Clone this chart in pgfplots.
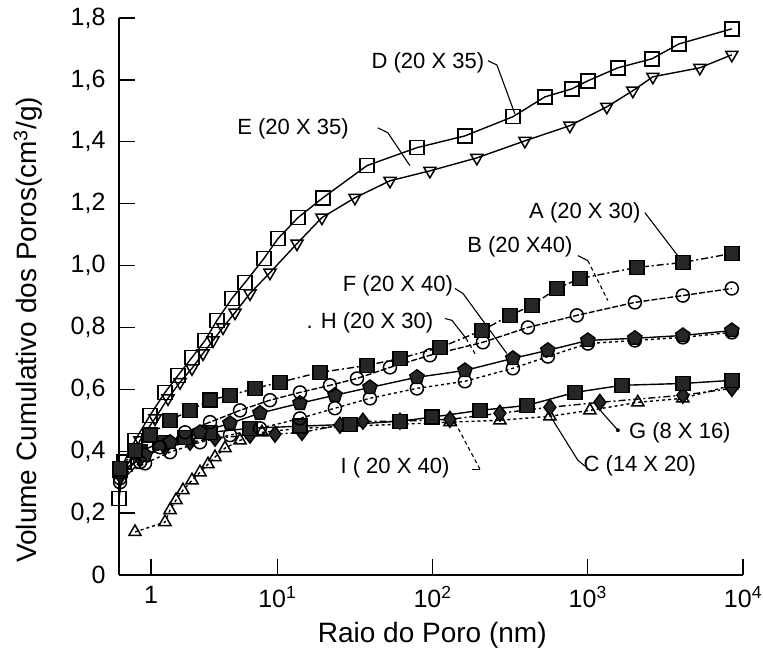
\documentclass[border=0pt]{standalone}
\usepackage{pgfplots}
\pgfplotsset{compat=1.18}
\usepackage{fontspec}
\setmainfont{Liberation Sans}
\begin{document}
\begin{tikzpicture}
\begin{axis}[name=ax,
  width=624pt, height=557pt, scale only axis,
  xmode=log, xmin=0.956, xmax=10000, ymin=0, ymax=1.8,
  axis lines=left, axis line style={-, line width=1.7pt},
  clip=false,
  xtick={1.537,10,100,1000,10000},
  xticklabels={1,10\textsuperscript{1},10\textsuperscript{2},10\textsuperscript{3},10\textsuperscript{4}},
  xminorticks=false,
  ytick={0,0.2,0.4,0.6,0.8,1.0,1.2,1.4,1.6,1.8},
  yticklabels={0,{0,2},{0,4},{0,6},{0,8},{1,0},{1,2},{1,4},{1,6},{1,8}},
  tick align=inside, major tick length=16pt,
  every tick/.style={black, line width=1.4pt},
  ticklabel style={font=\fontsize{25}{28}\selectfont},
  yticklabel style={xshift=-10pt},
  xticklabel style={yshift=-8pt},
  xlabel={Raio do Poro (nm)},
  ylabel={Volume Cumulativo dos Poros(cm\textsuperscript{3}/g)},
  label style={font=\fontsize{28}{32}\selectfont},
  xlabel style={at={(axis description cs:0.502,-0.108)}, anchor=center},
  ylabel style={at={(axis description cs:-0.146,0.44)}, anchor=center},
  every axis plot/.append style={line width=1.4pt, black},
]
% D (20 X 35) open squares
\addplot[mark=square, mark size=7pt, mark options={solid, fill=white, line width=1.5pt}] coordinates {
(0.957,0.248)(1.030,0.365)(1.212,0.435)(1.514,0.516)(1.891,0.590)(2.294,0.645)(2.823,0.703)(3.424,0.758)(4.090,0.823)(5.109,0.894)(6.194,0.945)(8.211,1.023)(10.10,1.087)(13.60,1.155)(19.69,1.219)(37.81,1.323)(79.37,1.381)(161.7,1.419)(329.4,1.481)(529.4,1.545)(790.2,1.571)(1001,1.597)(1562,1.639)(2586,1.668)(3860,1.716)(8471,1.765)};
% E (20 X 35) open down triangles
\addplot[mark=triangle, mark size=7pt, mark options={solid, rotate=180, fill=white, line width=1.5pt}] coordinates {
(1.0,0.323)(1.306,0.435)(1.631,0.506)(1.978,0.571)(2.363,0.623)(2.823,0.668)(3.323,0.716)(3.855,0.758)(4.470,0.800)(5.342,0.848)(6.673,0.910)(8.974,0.977)(13.39,1.071)(19.40,1.155)(31.64,1.219)(53.19,1.274)(96.23,1.306)(193.1,1.348)(393.6,1.403)(766.9,1.452)(1327,1.513)(1952,1.565)(2626,1.610)(5270,1.639)(8471,1.681)};
% G (8 X 16) open triangles
\addplot[dashed, mark=triangle, mark size=7pt, mark options={solid, fill=white, line width=1.5pt}] coordinates {
(1.212,0.139)(1.891,0.171)(2.038,0.210)(2.227,0.242)(2.470,0.274)(2.823,0.306)(3.179,0.332)(3.579,0.358)(3.971,0.381)(4.605,0.410)(5.753,0.435)(7.970,0.461)(14.00,0.474)(29.39,0.481)(61.68,0.487)(129.4,0.494)(271.6,0.500)(570.2,0.513)(1032,0.532)(2102,0.558)(4097,0.571)(8471,0.613)};
% I (20 X 40) filled diamonds
\addplot[dash pattern=on 7pt off 3pt on 2pt off 3pt, mark=diamond*, mark size=8pt, mark options={solid, fill=black!85}] coordinates {
(0.971,0.323)(1.306,0.377)(1.891,0.413)(2.741,0.429)(3.971,0.442)(6.673,0.452)(9.665,0.455)(14.42,0.461)(25.33,0.484)(35.63,0.497)(61.68,0.497)(129.4,0.503)(271.6,0.523)(570.2,0.542)(1196,0.558)(4097,0.581)(8471,0.603)};
% C (14 X 20) filled squares
\addplot[mark=square*, mark size=7pt, mark options={solid, fill=black!85}] coordinates {
(0.971,0.339)(1.306,0.397)(1.757,0.429)(2.545,0.445)(3.687,0.461)(6.673,0.474)(14.00,0.481)(29.39,0.487)(61.68,0.497)(99.11,0.510)(202.0,0.532)(405.4,0.548)(826.0,0.590)(1658,0.613)(4097,0.619)(8471,0.629)};
% H (20 X 30) open circles
\addplot[dashed, mark=o, mark size=6.5pt, mark options={solid, fill=white, line width=1.5pt}] coordinates {
(0.971,0.313)(1.406,0.361)(2.038,0.397)(3.179,0.429)(4.960,0.452)(7.737,0.474)(14.00,0.506)(23.52,0.539)(39.53,0.571)(79.37,0.603)(161.7,0.626)(329.4,0.668)(553.4,0.706)(1001,0.748)(2011,0.758)(4097,0.768)(8471,0.784)};
% F (20 X 40) filled pentagons
\addplot[mark=pentagon*, mark size=7.5pt, mark options={solid, fill=black!85}] coordinates {
(0.971,0.332)(1.406,0.387)(2.038,0.429)(3.179,0.461)(4.960,0.490)(7.737,0.523)(14.00,0.555)(23.52,0.581)(39.53,0.606)(79.37,0.639)(161.7,0.661)(329.4,0.700)(553.4,0.726)(1001,0.758)(2011,0.765)(4097,0.774)(8471,0.790)};
% B (20 X40) open circles
\addplot[dash pattern=on 6pt off 2pt, mark=o, mark size=6.5pt, mark options={solid, fill=white, line width=1.5pt}] coordinates {
(0.971,0.300)(1.306,0.365)(1.757,0.413)(2.545,0.461)(3.687,0.494)(5.753,0.532)(8.974,0.565)(14.00,0.590)(21.84,0.613)(32.61,0.635)(53.19,0.671)(96.23,0.710)(211.1,0.752)(411.5,0.800)(850.7,0.839)(2011,0.881)(4097,0.903)(8471,0.926)};
% A (20 X 30) filled squares
\addplot[dash pattern=on 7pt off 3pt on 2pt off 3pt, mark=square*, mark size=7pt, mark options={solid, fill=black!85}] coordinates {
(0.971,0.345)(1.212,0.403)(1.514,0.452)(2.038,0.500)(2.741,0.532)(3.687,0.565)(4.960,0.581)(7.185,0.603)(10.41,0.623)(18.84,0.655)(37.81,0.677)(61.68,0.700)(111.6,0.735)(208.0,0.790)(315.1,0.839)(436.6,0.871)(632.4,0.926)(889.5,0.958)(2071,0.994)(4097,1.010)(8471,1.039)};

% annotations
\begin{scope}[every node/.style={font=\fontsize{22}{26}\selectfont, inner sep=0pt}, line width=1.1pt]
\node at (axis cs:93.4,1.655) {D (20 X 35)};
\draw (axis cs:227.4,1.662) -- (axis cs:260,1.648) -- (axis cs:339.5,1.490);
\node at (axis cs:12.62,1.442) {E (20 X 35)};
\draw (axis cs:44.5,1.445) -- (axis cs:51.6,1.429) -- (axis cs:71.5,1.323);
\node at (axis cs:958,1.171) {A (20 X 30)};
\draw (axis cs:2333,1.171) -- (axis cs:3919,1.023);
\node at (axis cs:365.5,1.061) {B (20 X40)};
\draw (axis cs:863,1.032) -- (axis cs:1001,1.016);
\draw[dash pattern=on 4pt off 3pt] (axis cs:1001,1.016) -- (axis cs:1346,0.887);
\node at (axis cs:59.9,0.935) {F (20 X 40)};
\draw (axis cs:139.4,0.926) -- (axis cs:157,0.910) -- (axis cs:301,0.716);
\node at (axis cs:39.5,0.816) {. H (20 X 30)};
\draw (axis cs:120.2,0.829) -- (axis cs:133.4,0.823) -- (axis cs:164.2,0.765);
\draw[dash pattern=on 4pt off 3pt] (axis cs:164.2,0.765) -- (axis cs:190.5,0.710);
\node at (axis cs:57.3,0.348) {I ( 20 X 40)};
\draw (axis cs:179.4,0.342) -- (axis cs:202,0.342);
\draw[dash pattern=on 4pt off 3pt] (axis cs:202,0.342) -- (axis cs:139.4,0.494);
\node at (axis cs:2164,0.352) {C (14 X 20)};
\draw (axis cs:958,0.352) -- (axis cs:863,0.371) -- (axis cs:570,0.516);
\node at (axis cs:3919,0.458) {G (8 X 16)};
\fill (axis cs:1562,0.468) circle (2pt);
\draw (axis cs:1562,0.468) -- (axis cs:1233,0.526) -- (axis cs:1145,0.548);
\end{scope}
\end{axis}
\pgfresetboundingbox
\path ([xshift=-119pt,yshift=-79pt]ax.south west) rectangle ([xshift=20pt,yshift=18pt]ax.north east);
\end{tikzpicture}
\end{document}
